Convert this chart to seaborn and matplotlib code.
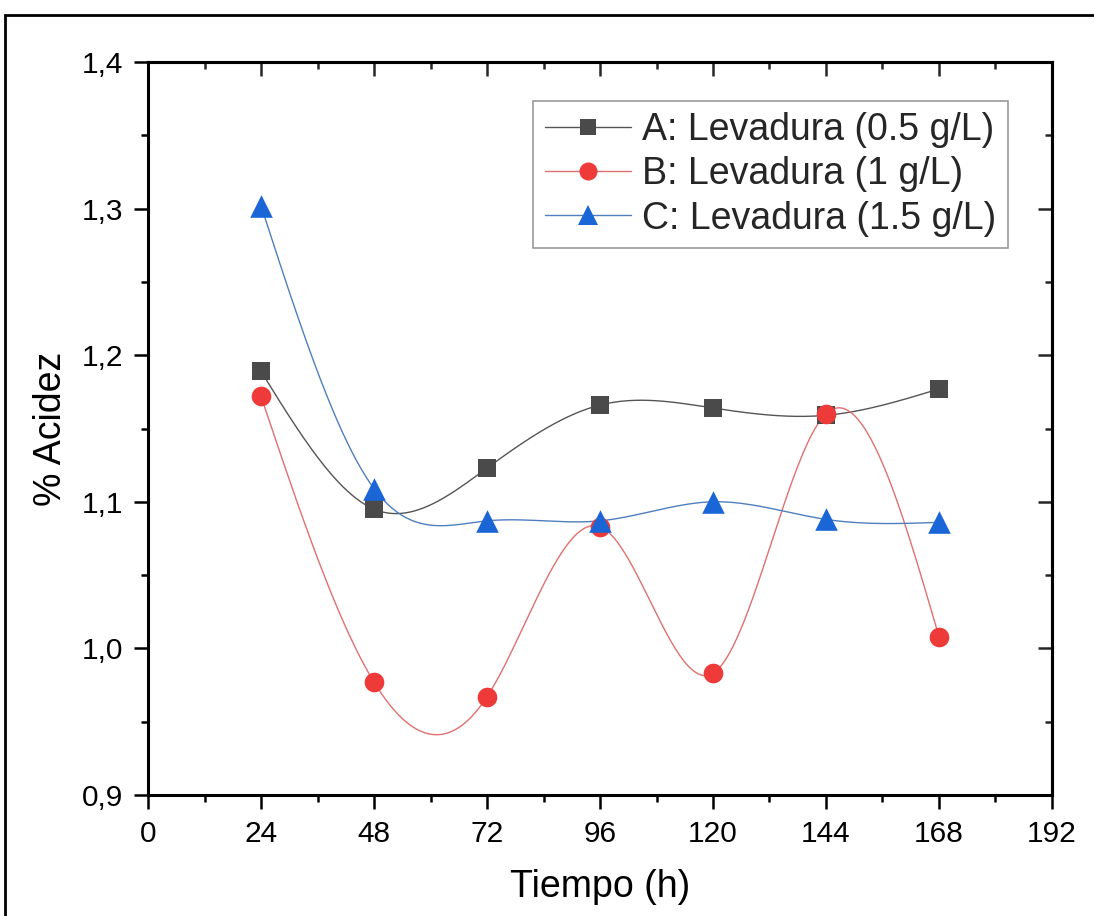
import numpy as np
import pandas as pd
import matplotlib
matplotlib.use("Agg")
import matplotlib.pyplot as plt
import seaborn as sns
from matplotlib.lines import Line2D
from matplotlib.patches import Rectangle
from matplotlib.ticker import MultipleLocator, FuncFormatter

# data
tiempo = [24, 48, 72, 96, 120, 144, 168]
acidez_a = [1.189, 1.095, 1.123, 1.166, 1.164, 1.159, 1.177]
acidez_b = [1.172, 0.977, 0.967, 1.083, 0.983, 1.160, 1.008]
acidez_c = [1.302, 1.109, 1.087, 1.087, 1.100, 1.088, 1.086]
series_names = ["A: Levadura (0.5 g/L)", "B: Levadura (1 g/L)", "C: Levadura (1.5 g/L)"]

marker_colors = ["#4a4a4a", "#ef3a3a", "#1b66d6"]
line_colors = ["#555555", "#e07070", "#4f7fbf"]
markers = ["s", "o", "^"]
marker_sizes = [165, 200, 265]


def natural_spline(x, y, n=300):
    # smooth connector through the points (Origin "spline" line)
    x = np.asarray(x, float)
    y = np.asarray(y, float)
    k = len(x)
    h = np.diff(x)
    A = np.zeros((k, k))
    r = np.zeros(k)
    A[0, 0] = A[-1, -1] = 1
    for i in range(1, k - 1):
        A[i, i - 1] = h[i - 1]
        A[i, i] = 2 * (h[i - 1] + h[i])
        A[i, i + 1] = h[i]
        r[i] = 6 * ((y[i + 1] - y[i]) / h[i] - (y[i] - y[i - 1]) / h[i - 1])
    M = np.linalg.solve(A, r)
    xs = np.linspace(x[0], x[-1], n)
    idx = np.clip(np.searchsorted(x, xs) - 1, 0, k - 2)
    x0, x1 = x[idx], x[idx + 1]
    hh = x1 - x0
    t0, t1 = x1 - xs, xs - x0
    ys = (M[idx] * t0 ** 3 + M[idx + 1] * t1 ** 3) / (6 * hh) \
        + (y[idx] / hh - M[idx] * hh / 6) * t0 \
        + (y[idx + 1] / hh - M[idx + 1] * hh / 6) * t1
    return xs, ys


sns.set_theme(style="white")
plt.rcParams['font.family'] = ['Liberation Sans', 'DejaVu Sans']

fig = plt.figure(figsize=(10.94, 9.16), dpi=100)
ax = fig.add_axes([0.1353, 0.1321, 0.8263, 0.8002])

all_series = [acidez_a, acidez_b, acidez_c]
for vals, lc in zip(all_series, line_colors):
    xs, ys = natural_spline(tiempo, vals)
    sns.lineplot(x=xs, y=ys, color=lc, linewidth=1.0, ax=ax, sort=False, zorder=2)

for vals, mc, mk, ms in zip(all_series, marker_colors, markers, marker_sizes):
    sns.scatterplot(x=tiempo, y=vals, color=mc, marker=mk, s=ms, linewidth=0, ax=ax, zorder=3)

ax.set_xlim(0, 192)
ax.set_ylim(0.9, 1.4)
ax.xaxis.set_major_locator(MultipleLocator(24))
ax.xaxis.set_minor_locator(MultipleLocator(12))
ax.yaxis.set_major_locator(MultipleLocator(0.1))
ax.yaxis.set_minor_locator(MultipleLocator(0.05))
ax.yaxis.set_major_formatter(FuncFormatter(lambda v, _: f"{v:.1f}".replace(".", ",")))

for sp in ax.spines.values():
    sp.set_visible(True)
    sp.set_color("black")
    sp.set_linewidth(2.2)

ax.tick_params(which="both", direction="out", color="black", width=1.8,
               bottom=True, left=True, top=False, right=False,
               labelsize=21.5, labelcolor="black")
ax.tick_params(which="major", length=10, pad=8)
ax.tick_params(which="minor", length=5)

top = ax.secondary_xaxis("top")
top.xaxis.set_major_locator(MultipleLocator(24))
top.xaxis.set_minor_locator(MultipleLocator(12))
top.tick_params(which="both", direction="in", width=1.8, labeltop=False)
top.tick_params(which="major", length=10)
top.tick_params(which="minor", length=5)
top.spines["top"].set_linewidth(2.2)

right = ax.secondary_yaxis("right")
right.yaxis.set_major_locator(MultipleLocator(0.1))
right.yaxis.set_minor_locator(MultipleLocator(0.05))
right.tick_params(which="both", direction="in", width=1.8, labelright=False)
right.tick_params(which="major", length=10)
right.tick_params(which="minor", length=5)
right.spines["right"].set_linewidth(2.2)

ax.set_xlabel("Tiempo (h)", fontsize=27, color="black", labelpad=15)
ax.set_ylabel("% Acidez", fontsize=27, color="black", labelpad=9)

handles = [Line2D([0], [0], color=lc, lw=1.0, marker=mk, markersize=ms, markerfacecolor=mc,
                  markeredgewidth=0)
           for lc, mc, mk, ms in zip(line_colors, marker_colors, markers, [11, 13, 15])]
leg = ax.legend(handles, series_names, loc="upper right", bbox_to_anchor=(0.951, 0.947),
                fontsize=27, frameon=True, fancybox=False, framealpha=1,
                edgecolor="#9a9a9a", handlelength=2.3, handletextpad=0.3,
                labelspacing=0.22, borderpad=0.3, borderaxespad=0)
leg.get_frame().set_linewidth(1.2)

# outer frame of the figure (top and left edges visible)
fig.patches.append(Rectangle((5 / 1094, -0.5), 2, 1.5 - 15 / 916,
                             transform=fig.transFigure, fill=False,
                             edgecolor="black", linewidth=2))

fig.savefig("out.png", dpi=100)
